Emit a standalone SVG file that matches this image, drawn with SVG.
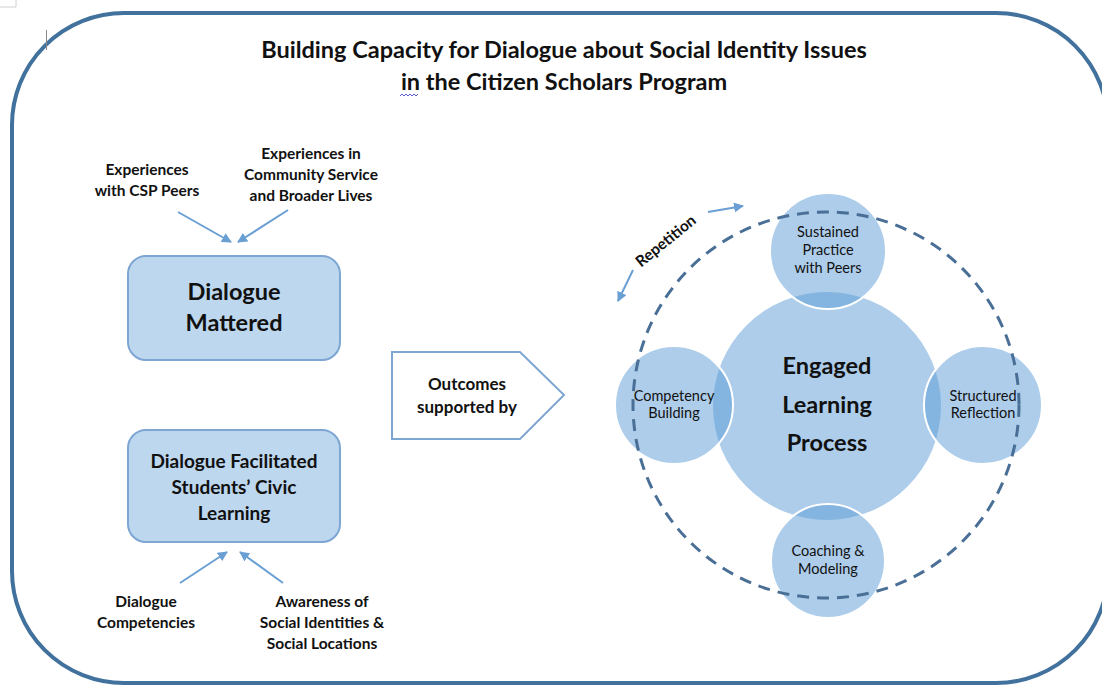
<svg xmlns="http://www.w3.org/2000/svg" width="1102" height="686" viewBox="0 0 1102 686">
<defs>
<style>
text{font-family:Lato,"Open Sans","Liberation Sans",sans-serif;fill:#111;text-anchor:middle}
.b{font-weight:bold}
.box{fill:#bdd7ee;stroke:#7ea6d3;stroke-width:2}
.ci{fill:#5b9bd5;fill-opacity:0.5;stroke:#fff;stroke-width:2}
.arr{stroke:#6a9fd4;stroke-width:2;fill:none;marker-end:url(#ah)}
</style>
<marker id="ah" viewBox="0 0 10 10" refX="9" refY="5" markerWidth="5" markerHeight="5" orient="auto" markerUnits="strokeWidth">
<path d="M0,0 L10,5 L0,10 z" fill="#6a9fd4"/>
</marker>
</defs>
<rect width="1102" height="686" fill="#fff"/>
<rect x="12" y="13" width="1096" height="670" rx="112" ry="112" fill="none" stroke="#41719c" stroke-width="4"/>
<path d="M0,7 H16 V0" fill="none" stroke="#d0d0d0" stroke-width="1"/>
<line x1="46.5" y1="30" x2="46.5" y2="50" stroke="#888" stroke-width="1"/>
<g id="title">
<text class="b" x="564" y="58" font-size="23.5">Building Capacity for Dialogue about Social Identity Issues</text>
<text class="b" x="564" y="90" font-size="23.5">in the Citizen Scholars Program</text>
<path d="M400,96 l2,-2 l2,2 l2,-2 l2,2 l2,-2 l2,2 l2,-2 l2,2 l2,-2" fill="none" stroke="#5a5ad0" stroke-width="1"/>
</g>
<g id="connectors">
<line class="arr" x1="178" y1="212" x2="231" y2="242"/>
<line class="arr" x1="288" y1="210" x2="238" y2="242"/>
<line class="arr" x1="180" y1="583" x2="227" y2="552"/>
<line class="arr" x1="283" y1="583" x2="240" y2="552"/>
<line class="arr" x1="708" y1="212" x2="743" y2="206"/>
<line class="arr" x1="633" y1="270" x2="618" y2="301"/>
</g>
<g id="exp-peers">
<text class="b" x="147" y="175" font-size="15.5">Experiences</text>
<text class="b" x="147" y="196" font-size="15.5">with CSP Peers</text>
</g>
<g id="exp-community">
<text class="b" x="311" y="159" font-size="15.5">Experiences in</text>
<text class="b" x="311" y="180" font-size="15.5">Community Service</text>
<text class="b" x="311" y="201" font-size="15.5">and Broader Lives</text>
</g>
<g id="dialogue-mattered">
<rect class="box" x="128" y="256" width="212" height="104" rx="18"/>
<text class="b" x="234" y="300" font-size="23.5">Dialogue</text>
<text class="b" x="234" y="331" font-size="23.5">Mattered</text>
</g>
<g id="dialogue-facilitated">
<rect class="box" x="128" y="430" width="212" height="112" rx="18"/>
<text class="b" x="234" y="468" font-size="19">Dialogue Facilitated</text>
<text class="b" x="234" y="494" font-size="19">Students’ Civic</text>
<text class="b" x="234" y="520" font-size="19">Learning</text>
</g>
<g id="dialogue-competencies">
<text class="b" x="146" y="607" font-size="15.5">Dialogue</text>
<text class="b" x="146" y="628" font-size="15.5">Competencies</text>
</g>
<g id="awareness">
<text class="b" x="322" y="607" font-size="15.5">Awareness of</text>
<text class="b" x="322" y="628" font-size="15.5">Social Identities &amp;</text>
<text class="b" x="322" y="649" font-size="15.5">Social Locations</text>
</g>
<g id="outcomes">
<path d="M392,352 H520 L564,395 L520,439 H392 Z" fill="#fff" stroke="#7ea6d3" stroke-width="2"/>
<text class="b" x="467" y="390" font-size="17">Outcomes</text>
<text class="b" x="467" y="413" font-size="17">supported by</text>
</g>
<g id="engaged-learning">
<circle cx="827" cy="406" r="114" fill="#5b9bd5" fill-opacity="0.5"/>
<text class="b" x="827" y="374" font-size="23.5">Engaged</text>
<text class="b" x="827" y="413" font-size="23.5">Learning</text>
<text class="b" x="827" y="451" font-size="23.5">Process</text>
</g>
<g id="sustained-practice">
<circle class="ci" cx="828" cy="251" r="58"/>
<text x="828" y="237" font-size="14.5">Sustained</text>
<text x="828" y="255" font-size="14.5">Practice</text>
<text x="828" y="273" font-size="14.5">with Peers</text>
</g>
<g id="competency-building">
<circle class="ci" cx="674" cy="405" r="59"/>
<text x="674" y="401" font-size="14.5">Competency</text>
<text x="674" y="418" font-size="14.5">Building</text>
</g>
<g id="structured-reflection">
<circle class="ci" cx="983" cy="405" r="59"/>
<text x="983" y="401" font-size="14.5">Structured</text>
<text x="983" y="418" font-size="14.5">Reflection</text>
</g>
<g id="coaching-modeling">
<circle class="ci" cx="828" cy="561" r="57"/>
<text x="828" y="556" font-size="14.5">Coaching &amp;</text>
<text x="828" y="574" font-size="14.5">Modeling</text>
</g>
<g id="repetition-cycle">
<circle cx="826" cy="405" r="193" fill="none" stroke="#4a6f96" stroke-width="3" stroke-dasharray="12 8"/>
<text class="b" x="669" y="245" font-size="15.5" transform="rotate(-39 669 245)">Repetition</text>
</g>
</svg>
